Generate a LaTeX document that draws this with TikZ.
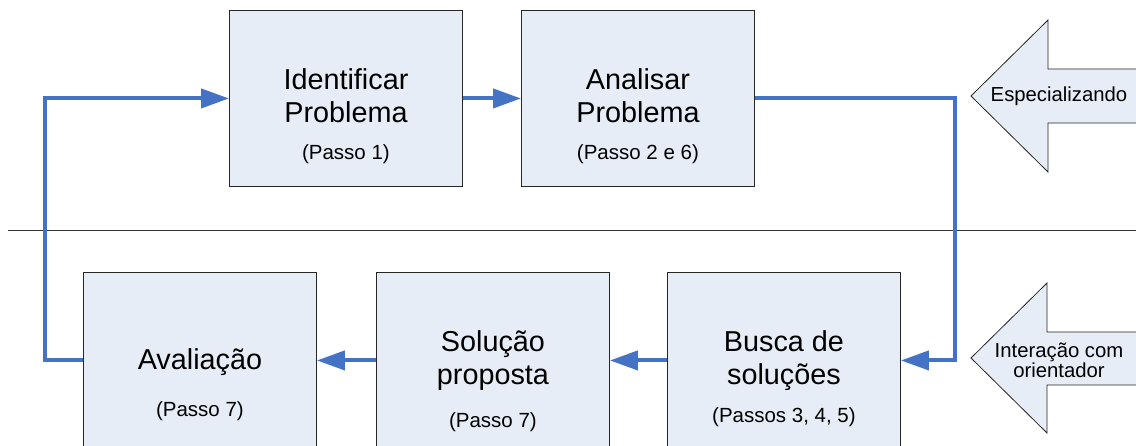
\documentclass[tikz,border=0pt]{standalone}
\usepackage{fontspec}
\setmainfont{Liberation Sans}
\usepackage{tikz}
\usetikzlibrary{arrows.meta, positioning}
\usepackage{xcolor}
\definecolor{boxfill}{RGB}{231,237,247}
\definecolor{flowblue}{RGB}{68,114,196}
\tikzset{%
	stepbox/.style={
		draw=black!85,
		fill=boxfill,
		line width=0.9pt,
		minimum width=233pt,
		minimum height=176pt,
		inner sep=0pt,
		anchor=north west
	},
	steptitle/.style={
		anchor=base,
		align=center,
		inner sep=0pt,
		font=\fontsize{28.8}{33.5}\selectfont
	},
	stepnote/.style={
		anchor=base,
		inner sep=0pt,
		font=\fontsize{20.5}{22}\selectfont
	},
	flow/.style={
		draw=flowblue,
		line width=4pt,
		-{Triangle[length=28pt,width=19pt]}
	},
	bigarrow/.style={
		draw=black!85,
		fill=boxfill,
		line width=0.8pt
	},
}

\begin{document}
\begin{tikzpicture}[x=1pt, y=-1pt]
	\useasboundingbox (0,0) rectangle (1136,446);

	\node[stepbox] (iden) at (229,10) {};
	\node[stepbox] (anal) at (521,10) {};
	\node[stepbox] (aval) at (83,272) {};
	\node[stepbox] (solu) at (376,272) {};
	\node[stepbox] (busc) at (667,272) {};

	\node[steptitle] (idenT) at ([yshift=-113pt]iden.north) {Identificar\\Problema};
	\node[stepnote]  (idenN) at ([yshift=-150pt]iden.north) {(Passo 1)};
	\node[steptitle] (analT) at ([yshift=-113pt]anal.north) {Analisar\\Problema};
	\node[stepnote]  (analN) at ([yshift=-150pt]anal.north) {(Passo 2 e 6)};
	\node[steptitle] (avalT) at ([yshift=-98pt]aval.north) {Avaliação};
	\node[stepnote]  (avalN) at ([yshift=-145pt]aval.north) {(Passo 7)};
	\node[steptitle] (soluT) at ([yshift=-113pt]solu.north) {Solução\\proposta};
	\node[stepnote]  (soluN) at ([yshift=-156pt]solu.north) {(Passo 7)};
	\node[steptitle] (buscT) at ([yshift=-113pt]busc.north) {Busca de\\soluções};
	\node[stepnote]  (buscN) at ([yshift=-151pt]busc.north) {(Passos 3, 4, 5)};

	\coordinate (sepL) at (8,230);
	\coordinate (sepR) at (1136,230);
	\draw[black!80, line width=0.8pt] (sepL) -- (sepR);

	\coordinate (lft) at (45,230);
	\coordinate (rgt) at (955,230);
	\draw[flow] (iden.east) -- (anal.west);
	\draw[flow] (anal.east) -| (rgt) |- (busc.east);
	\draw[flow] (busc.west) -- (solu.east);
	\draw[flow] (solu.west) -- (aval.east);
	\draw[flow] (aval.west) -| (lft) |- (iden.west);

	\draw[bigarrow] (1140,69) -- (1048,69) -- (1048,20) -- (971,96)
		-- (1048,172) -- (1048,123) -- (1140,123) -- cycle;
	\node[stepnote, anchor=center, font=\fontsize{20.3}{22}\selectfont] (espec) at (1059,96) {Especializando};
	\draw[bigarrow] (1140,332) -- (1047,332) -- (1047,283) -- (971,358)
		-- (1047,433) -- (1047,385) -- (1140,385) -- cycle;
	\node[stepnote, anchor=center, align=center,
		font=\fontsize{20.3}{20}\selectfont] (orien) at (1059,360) {Interação com\\orientador};
\end{tikzpicture}
\end{document}
